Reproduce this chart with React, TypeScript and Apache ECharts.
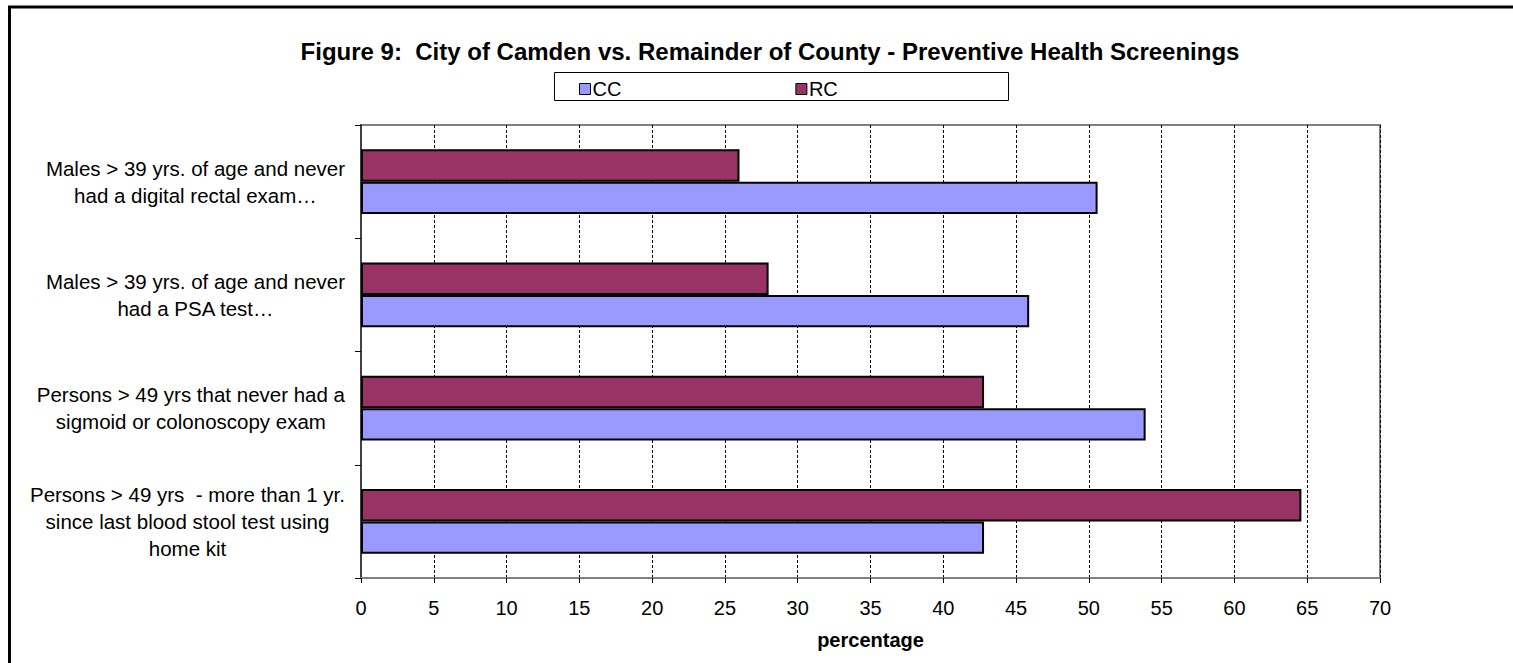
import React, { useEffect, useRef } from 'react';
import * as echarts from 'echarts';

const categories = [
  'Males > 39 yrs. of age and never\nhad a digital rectal exam…',
  'Males > 39 yrs. of age and never\nhad a PSA test…',
  'Persons > 49 yrs that never had a\nsigmoid or colonoscopy exam',
  'Persons > 49 yrs \u00A0- more than 1 yr.\nsince last blood stool test using\nhome kit',
];
const seriesNames = ['CC', 'RC'];
const ccValues = [50.6, 45.9, 53.9, 42.8];
const rcValues = [26.0, 28.0, 42.8, 64.6];
const xMin = 0;
const xMax = 70;
const xInterval = 5;
const titleText = 'Figure 9:\u00A0 City of Camden vs. Remainder of County - Preventive Health Screenings';
const xAxisName = 'percentage';

const FONT = '"Liberation Sans", Arial, Helvetica, sans-serif';

export default function App() {
  const ref = useRef<HTMLDivElement>(null);
  useEffect(() => {
    if (!ref.current) return;
    const chart = echarts.init(ref.current, undefined, { renderer: 'svg' });
    chart.setOption({
      animation: false,
      backgroundColor: '#fff',
      title: {
        text: titleText,
        left: 770,
        top: 39,
        padding: 0,
        textAlign: 'center',
        textStyle: { fontSize: 24, fontWeight: 'bold', color: '#000', fontFamily: FONT },
      },
      legend: {
        data: seriesNames,
        left: 579,
        top: 79,
        padding: 0,
        itemWidth: 11,
        itemHeight: 11,
        itemGap: 174,
        icon: 'rect',
        itemStyle: { borderColor: '#000', borderWidth: 1 },
        textStyle: { fontSize: 20, color: '#000', fontFamily: FONT, padding: [0, 0, 0, -3] },
      },
      graphic: [
        {
          type: 'rect',
          z: 1,
          shape: { x: 9.5, y: 7, width: 1600, height: 700 },
          style: { fill: 'none', stroke: '#000', lineWidth: 3 },
        },
        {
          type: 'rect',
          z: 1,
          shape: { x: 554.5, y: 72.5, width: 454, height: 28 },
          style: { fill: '#fff', stroke: '#000', lineWidth: 1 },
        },
      ],
      grid: {
        left: 361,
        top: 125,
        right: 133,
        bottom: 85,
        show: true,
        borderColor: '#808080',
        borderWidth: 2,
        backgroundColor: '#fff',
      },
      xAxis: {
        type: 'value',
        min: xMin,
        max: xMax,
        interval: xInterval,
        name: xAxisName,
        nameLocation: 'middle',
        nameGap: 52,
        nameTextStyle: { fontSize: 20, fontWeight: 'bold', color: '#000', fontFamily: FONT },
        axisLine: { show: true, lineStyle: { color: '#808080', width: 2 } },
        axisTick: { show: true, length: 5, lineStyle: { color: '#000', width: 1 } },
        axisLabel: { margin: 20, fontSize: 20, color: '#000', fontFamily: FONT },
        splitLine: { show: true, lineStyle: { color: '#000', width: 1, type: [3, 2] } },
      },
      yAxis: {
        type: 'category',
        data: categories,
        inverse: true,
        axisLine: { show: true, lineStyle: { color: '#404040', width: 2 } },
        axisTick: { show: true, length: 6, lineStyle: { color: '#000', width: 1 } },
        axisLabel: {
          margin: 16,
          formatter: (v: string) => v.split('\n').map((l) => `{c|${l}}`).join('\n'),
          rich: {
            c: { align: 'center', fontSize: 20.5, lineHeight: 27, color: '#000', fontFamily: FONT },
          },
        },
        splitLine: { show: false },
      },
      series: [
        {
          name: seriesNames[1],
          type: 'bar',
          data: rcValues,
          barGap: '0%',
          barCategoryGap: '43%',
          itemStyle: { color: '#993366', borderColor: '#000', borderWidth: 2 },
        },
        {
          name: seriesNames[0],
          type: 'bar',
          data: ccValues,
          barGap: '0%',
          barCategoryGap: '43%',
          itemStyle: { color: '#9999FF', borderColor: '#000', borderWidth: 2 },
        },
      ],
    });
    return () => chart.dispose();
  }, []);
  return (
    <div
      ref={ref}
      style={{ position: 'fixed', left: 0, top: 0, width: 1513, height: 663 }}
    />
  );
}
